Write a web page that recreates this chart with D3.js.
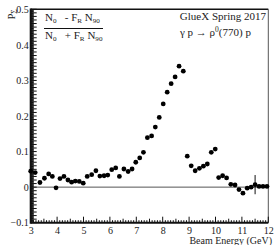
<!DOCTYPE html>
<html>
<head>
<meta charset="utf-8">
<script src="https://cdn.jsdelivr.net/npm/d3@7"></script>
<style>
  body { margin: 0; background: #fff; }
  text { font-family: "Liberation Serif", "DejaVu Serif", serif; fill: #222; }
</style>
</head>
<body>
<div id="container"></div>
<script>
/* DATA */
const energy = [3.00, 3.17, 3.35, 3.52, 3.68, 3.82, 3.96, 4.11, 4.26, 4.41,
                4.55, 4.69, 4.84, 4.99, 5.14, 5.31, 5.47, 5.62, 5.78, 5.92,
                6.07, 6.22, 6.36, 6.53, 6.69, 6.84, 6.98, 7.13, 7.27, 7.42,
                7.58, 7.72, 7.87, 8.02, 8.17, 8.32, 8.47, 8.62, 8.78, 8.93,
                9.08, 9.23, 9.39, 9.54, 9.69, 9.84, 9.99, 10.12, 10.27, 10.42,
                10.58, 10.74, 10.89, 11.04, 11.20, 11.35, 11.50, 11.65, 11.80, 11.95]
const asym = [0.045, 0.041, 0.013, 0.025, 0.037, 0.030, -0.002, 0.024, 0.030, 0.020,
              0.014, 0.017, 0.016, 0.011, 0.030, 0.035, 0.046, 0.031, 0.032, 0.034,
              0.049, 0.054, 0.030, 0.051, 0.044, 0.051, 0.070, 0.082, 0.098, 0.139,
              0.144, 0.169, 0.196, 0.234, 0.267, 0.291, 0.310, 0.340, 0.326, 0.087,
              0.060, 0.046, 0.053, 0.059, 0.065, 0.098, 0.107, 0.027, 0.032, 0.026,
              0.008, 0.006, -0.007, -0.017, -0.003, 0.000, 0.007, 0.002, 0.002, 0.002]
// only the bin at 11.5 GeV shows a visible error bar
const errs = energy.map((e, i) => i === 56 ? 0.027 : 0)

const xTicks = [3, 4, 5, 6, 7, 8, 9, 10, 11, 12]
const yTicks = [-0.1, 0, 0.1, 0.2, 0.3, 0.4, 0.5]

/* CONSTANTS */
const width = 274, height = 245
const margin = {top: 9.3, right: 5.7, bottom: 22.3, left: 30.7}

const xScale = d3.scaleLinear().domain([3, 12]).range([margin.left, width - margin.right])
const yScale = d3.scaleLinear().domain([-0.1, 0.5]).range([height - margin.bottom, margin.top])

const svg = d3.select("#container").append("svg")
  .attr("width", width).attr("height", height)

const x0 = xScale(3), x1 = xScale(12), y0 = yScale(-0.1), y1 = yScale(0.5)

// zero line
svg.append("line")
  .attr("x1", x0).attr("x2", x1)
  .attr("y1", yScale(0)).attr("y2", yScale(0))
  .attr("stroke", "#555").attr("stroke-width", 1)

// frame
svg.append("line").attr("x1", x0).attr("x2", x1).attr("y1", y1).attr("y2", y1)
  .attr("stroke", "#111").attr("stroke-width", 1.6)
svg.append("line").attr("x1", x1).attr("x2", x1).attr("y1", y1).attr("y2", y0)
  .attr("stroke", "#555").attr("stroke-width", 1)

// X AXIS (ticks inside)
const xAxis = d3.axisBottom(xScale).tickValues(xTicks).tickSize(0).tickFormat(d3.format("d"))
const gx = svg.append("g").attr("transform", `translate(0, ${y0})`).call(xAxis)
  .attr("font-family", null).attr("font-size", null)
gx.select(".domain").remove()
gx.selectAll("text").attr("y", 11).attr("dy", null).style("font-size", "10px")
const xMinor = d3.range(30, 121).map(d => d / 10)
svg.append("g").selectAll("line").data(xMinor).join("line")
  .attr("x1", d => xScale(d)).attr("x2", d => xScale(d))
  .attr("y1", y0)
  .attr("y2", d => y0 - (Number.isInteger(d) ? 6 : (Math.abs(d % 1 - 0.5) < 1e-6 ? 4 : 2.5)))
  .attr("stroke", "#111").attr("stroke-width", 1)

// Y AXIS (ticks inside)
const yAxis = d3.axisLeft(yScale).tickValues(yTicks).tickSize(0)
  .tickFormat(d => d === 0 ? "0" : (d < 0 ? "\u22120.1" : d3.format(".1f")(d)))
const gy = svg.append("g").attr("transform", `translate(${x0}, 0)`).call(yAxis)
  .attr("font-family", null).attr("font-size", null)
gy.select(".domain").remove()
gy.selectAll("text").attr("x", -2).style("font-size", "10px")
const yMinor = d3.range(-50, 251).map(d => d / 500)
svg.append("g").selectAll("line").data(yMinor).join("line")
  .attr("x1", x0)
  .attr("x2", (d, i) => x0 + (i % 5 === 0 ? 6 : 3))
  .attr("y1", d => yScale(d)).attr("y2", d => yScale(d))
  .attr("stroke", "#111").attr("stroke-width", 1)

svg.append("line").attr("x1", x0).attr("x2", x0).attr("y1", y1 - 0.8).attr("y2", y0 + 1)
  .attr("stroke", "#111").attr("stroke-width", 2)
svg.append("line").attr("x1", x0).attr("x2", x1).attr("y1", y0).attr("y2", y0)
  .attr("stroke", "#111").attr("stroke-width", 2)

// axis titles
svg.append("text")
  .attr("x", 272).attr("y", 243.5)
  .style("text-anchor", "end").style("font-size", "10px")
  .text("Beam Energy (GeV)")

const yt = svg.append("text")
  .attr("transform", `translate(15, ${y1 + 10}) rotate(-90)`)
  .style("text-anchor", "start").style("font-size", "10px")
yt.append("tspan").text("P")
yt.append("tspan").attr("dy", 2).style("font-size", "7.5px").text("\u03A3")

// DATA POINTS
const data = energy.map((e, i) => ({e, v: asym[i], err: errs[i]}))
svg.append("g").selectAll("line").data(data.filter(d => d.err > 0)).join("line")
  .attr("x1", d => xScale(d.e)).attr("x2", d => xScale(d.e))
  .attr("y1", d => yScale(d.v - d.err)).attr("y2", d => yScale(d.v + d.err))
  .attr("stroke", "#111").attr("stroke-width", 1)
svg.append("g").selectAll("circle").data(data).join("circle")
  .attr("cx", d => xScale(d.e)).attr("cy", d => yScale(d.v))
  .attr("r", 2.4).attr("fill", "#000")

// fraction label
function subText(g, x, y, parts, size) {
  const t = g.append("text").attr("x", x).attr("y", y).style("font-size", size + "px")
    .style("white-space", "pre")
  parts.forEach(p => {
    if (p.sub) t.append("tspan").attr("dy", 2).style("font-size", (size * 0.65) + "px").text(p.t)
    else t.append("tspan").attr("dy", p.after ? -2 : 0).text(p.t)
  })
  return t
}
const lab = svg.append("g")
subText(lab, 45, 21, [{t: "N"}, {t: "0", sub: true}, {t: "   - F", after: true},
  {t: "R", sub: true}, {t: " N", after: true}, {t: "90", sub: true}], 11)
lab.append("line").attr("x1", 44).attr("x2", 103).attr("y1", 28.5).attr("y2", 28.5)
  .attr("stroke", "#111").attr("stroke-width", 1.2)
subText(lab, 45, 39, [{t: "N"}, {t: "0", sub: true}, {t: "   + F", after: true},
  {t: "R", sub: true}, {t: " N", after: true}, {t: "90", sub: true}], 11)

svg.append("text").attr("x", 266).attr("y", 20)
  .style("text-anchor", "end").style("font-size", "11px")
  .text("GlueX Spring 2017")
const rt = svg.append("text").attr("x", 180).attr("y", 36).style("font-size", "11px")
rt.append("tspan").text("\u03B3 p \u2192 \u03C1")
rt.append("tspan").attr("dy", -4).style("font-size", "7.5px").text("0")
rt.append("tspan").attr("dy", 4).text("(770) p")
</script>
</body>
</html>
